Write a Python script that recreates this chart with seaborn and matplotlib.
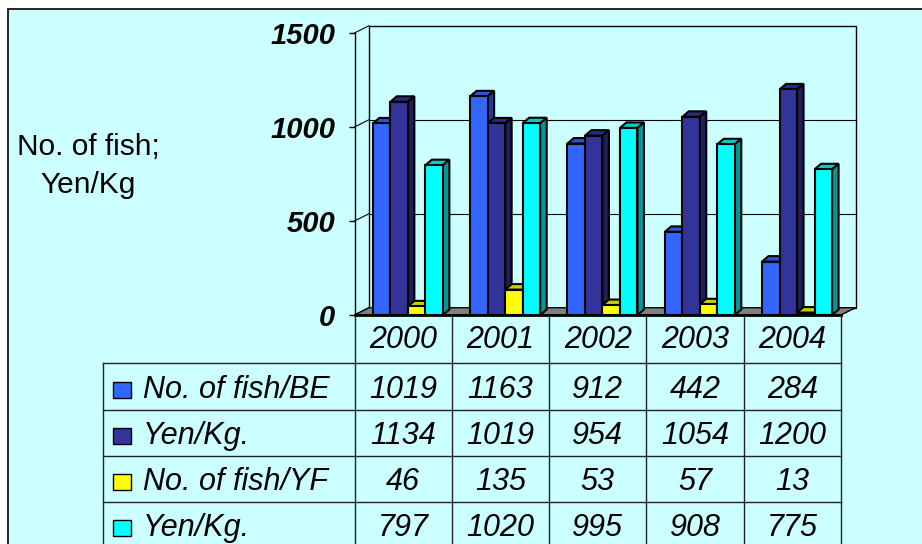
import matplotlib
matplotlib.use("Agg")
import matplotlib.pyplot as plt
import seaborn as sns
import pandas as pd
from matplotlib.patches import Rectangle, Polygon
from matplotlib.lines import Line2D
from matplotlib.transforms import blended_transform_factory

# ---- data -------------------------------------------------------------
years = ["2000", "2001", "2002", "2003", "2004"]
series_keys = ["fish_be", "yen_be", "fish_yf", "yen_yf"]
series_labels = ["No. of fish/BE", "Yen/Kg.", "No. of fish/YF", "Yen/Kg."]
fish_be = [1019, 1163, 912, 442, 284]
yen_be = [1134, 1019, 954, 1054, 1200]
fish_yf = [46, 135, 53, 57, 13]
yen_yf = [797, 1020, 995, 908, 775]
y_ticks = [0, 500, 1000, 1500]
y_label = "No. of fish;\nYen/Kg"

# ---- styling ----------------------------------------------------------
front_colors = ["#3366FF", "#333399", "#FFFF00", "#00FFFF"]
top_colors = ["#2A55D6", "#2A2A80", "#CCCC00", "#00CCCC"]
side_colors = ["#1F3D99", "#1F1F5C", "#999900", "#009999"]
panel_color = "#CCFFFF"

plt.rcParams["font.family"] = ["Liberation Sans", "DejaVu Sans"]

W, H = 922, 544
fig = plt.figure(figsize=(W / 100, H / 100), dpi=100, facecolor="white")


def fx(px):
    return px / W


def fy(py):
    return 1 - py / H


# chart panel
fig.patches.append(Rectangle((fx(8), fy(600)), fx(1000) - fx(8), fy(9) - fy(600),
                             transform=fig.transFigure, facecolor=panel_color,
                             edgecolor="black", lw=1.2, zorder=-10))

# front plane of the plot area (pixel positions of the value axis)
left_px, right_px, zero_px, top_px = 354.5, 841.0, 315.0, 33.0
ax = fig.add_axes([fx(left_px), fy(zero_px), (right_px - left_px) / W, (zero_px - top_px) / H])
ax.set_facecolor("none")

records = []
for key, vals in zip(series_keys, [fish_be, yen_be, fish_yf, yen_yf]):
    for yr, v in zip(years, vals):
        records.append({"year": yr, "series": key, "value": v})
df = pd.DataFrame(records)

sns.barplot(data=df, x="year", y="value", hue="series", order=years,
            hue_order=series_keys, palette=dict(zip(series_keys, front_colors)),
            width=0.72, saturation=1, edgecolor="black", linewidth=1.5,
            errorbar=None, legend=False, ax=ax)

ax.set_xlim(-0.5, len(years) - 0.5)
ax.set_ylim(0, 1500)

# pixel -> data conversions
ppx = (right_px - left_px) / len(years)
ppy = (zero_px - top_px) / 1500.0
bar_shift = 4.7 / ppx
ddx, ddy = 6.5 / ppx, 5.5 / ppy          # bar depth
wdx, wdy = 14.5 / ppx, 7.3 / ppy         # back wall depth

# 3-D faces for every bar
for s, cont in enumerate(ax.containers):
    for p in cont.patches:
        p.set_x(p.get_x() + bar_shift)
        p.set_zorder(3 + 2 * s)
        x, w, h = p.get_x(), p.get_width(), p.get_height()
        top = Polygon([(x, h), (x + w, h), (x + w + ddx, h + ddy), (x + ddx, h + ddy)],
                      closed=True, facecolor=top_colors[s], edgecolor="black",
                      lw=1.5, zorder=2 + 2 * s, clip_on=False)
        side = Polygon([(x + w, 0), (x + w + ddx, ddy), (x + w + ddx, h + ddy), (x + w, h)],
                       closed=True, facecolor=side_colors[s], edgecolor="black",
                       lw=1.5, zorder=2 + 2 * s, clip_on=False)
        ax.add_patch(top)
        ax.add_patch(side)

x0, x1 = -0.5, len(years) - 0.5
# floor
ax.add_patch(Polygon([(x0, 0), (x1, 0), (x1 + wdx, wdy), (x0 + wdx, wdy)], closed=True,
                     facecolor="#808080", edgecolor="black", lw=1.0, zorder=1, clip_on=False))
ax.plot([x0, x1], [0, 0], color="black", lw=2.0, zorder=1.5, clip_on=False)
# back wall and gridlines
ax.add_patch(Rectangle((x0 + wdx, wdy), x1 - x0, 1500, facecolor="none",
                       edgecolor="black", lw=1.0, zorder=0.5, clip_on=False))
for v in y_ticks:
    if 0 < v < 1500:
        ax.plot([x0 + wdx, x1 + wdx], [v + wdy, v + wdy], color="black", lw=0.8,
                zorder=0.5, clip_on=False)
    ax.plot([x0, x0 + wdx], [v, v + wdy], color="black", lw=0.8, zorder=0.5, clip_on=False)

# value axis
for sp in ["top", "right", "bottom"]:
    ax.spines[sp].set_visible(False)
ax.spines["left"].set_linewidth(1.0)
ax.set_yticks(y_ticks)
ax.tick_params(axis="y", length=4, width=1, pad=10, labelsize=21)
for t in ax.get_yticklabels():
    t.set_fontweight("bold")
    t.set_fontstyle("italic")
ax.tick_params(axis="x", bottom=False, labelbottom=False)
ax.set_xlabel("")
ax.set_ylabel("")

fig.text(fx(88), fy(166), y_label, ha="center", va="center", fontsize=21.5, linespacing=1.45)

# ---- data table -------------------------------------------------------
tab = blended_transform_factory(ax.transData, fig.transFigure)
line_kw = dict(color="#222222", lw=1.0)
header_top, header_base = 316, 348
row_edges = [363, 410, 456, 502]
row_baselines = [398, 444, 490, 536]
legend_left = 102.7
tsize = 22

for i, yr in enumerate(years):
    ax.text(i, fy(header_base), yr, transform=tab, ha="center",
            va="baseline", fontsize=tsize, fontstyle="italic", clip_on=False)
for b in range(len(years) + 1):
    fig.add_artist(Line2D([b - 0.5, b - 0.5], [fy(header_top), fy(560)], transform=tab, **line_kw))
for e in row_edges:
    fig.add_artist(Line2D([fx(legend_left), fx(right_px)], [fy(e), fy(e)],
                          transform=fig.transFigure, **line_kw))
fig.add_artist(Line2D([fx(legend_left), fx(legend_left)], [fy(row_edges[0]), fy(560)],
                      transform=fig.transFigure, **line_kw))

for s, (lab, vals) in enumerate(zip(series_labels, [fish_be, yen_be, fish_yf, yen_yf])):
    base = row_baselines[s]
    fig.patches.append(Rectangle((fx(113), fy(base)), 18 / W, 16 / H,
                                 transform=fig.transFigure, facecolor=front_colors[s],
                                 edgecolor="black", lw=1.0))
    fig.text(fx(143), fy(base), lab, ha="left", va="baseline", fontsize=tsize,
             fontstyle="italic")
    for i, v in enumerate(vals):
        ax.text(i, fy(base), str(v), transform=tab, ha="center", va="baseline",
                fontsize=tsize, fontstyle="italic", clip_on=False)

fig.savefig("out.png", dpi=100, facecolor=fig.get_facecolor())
